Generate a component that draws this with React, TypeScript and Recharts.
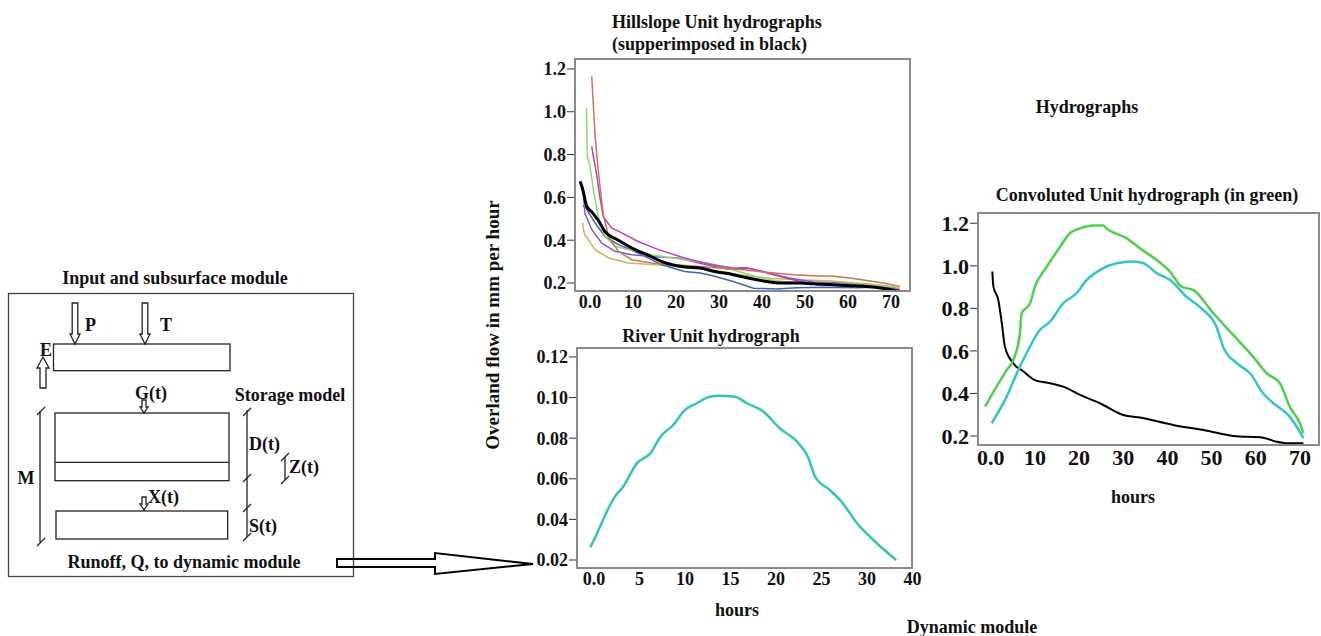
import { LineChart, Line, XAxis, YAxis } from "recharts";

const FONT = '"Liberation Serif", "Times New Roman", serif';

// [hours, mm per hour]
const HILL_BLACK = [[-2.3, 0.675], [-1.6, 0.63], [-0.8, 0.56], [0.5, 0.53], [2, 0.49], [3.5, 0.44], [6.6, 0.4], [10.5, 0.356], [13.5, 0.33], [16.7, 0.3], [22, 0.275], [25.6, 0.27], [29, 0.254], [33.3, 0.239], [37, 0.222], [41.1, 0.207], [44, 0.2], [48.8, 0.2], [52, 0.196], [56.6, 0.192], [60, 0.188], [64.3, 0.184], [68, 0.176], [72.1, 0.16]];
const HILL_BROWN = [[0.4, 1.165], [0.8, 1.025], [1.2, 0.885], [1.9, 0.73], [2.5, 0.62], [3.1, 0.52], [4.3, 0.418], [6.6, 0.348], [9.7, 0.309], [14.3, 0.294], [19, 0.286], [24, 0.28], [30, 0.27], [35.7, 0.262], [41, 0.25], [47.3, 0.239], [52, 0.234], [56.6, 0.231], [60.5, 0.223], [64, 0.213], [68.2, 0.2], [72.1, 0.184]];
const HILL_GREEN = [[-0.8, 1.018], [-0.7, 0.85], [-0.6, 0.79], [0, 0.745], [0.8, 0.636], [1.6, 0.54], [2.2, 0.49], [3.5, 0.418], [5.8, 0.371], [8.9, 0.356], [14.3, 0.332], [22, 0.309], [28.3, 0.29], [35.7, 0.247], [41.1, 0.216], [45, 0.207], [50, 0.2], [55, 0.198], [60, 0.194], [65, 0.19], [70.5, 0.18]];
const HILL_MAGENTA = [[0.4, 0.838], [0.8, 0.79], [1.6, 0.7], [2.3, 0.6], [3.1, 0.51], [5, 0.457], [7.4, 0.434], [11.2, 0.394], [15.9, 0.356], [22, 0.317], [28.3, 0.285], [33.3, 0.27], [37.2, 0.268], [41.1, 0.247], [48.8, 0.207], [52.7, 0.192], [58, 0.19], [64, 0.186], [68, 0.18], [72.1, 0.168]];
const HILL_PURPLE = [[-1.6, 0.65], [-1.4, 0.58], [-1.2, 0.527], [0.4, 0.45], [2.7, 0.387], [5.8, 0.348], [9.7, 0.332], [14.3, 0.324], [20.5, 0.317], [26, 0.29], [32, 0.265], [36, 0.272], [40, 0.255], [46, 0.225], [52, 0.205], [58, 0.2], [64, 0.19], [70, 0.175]];
const HILL_BLUE = [[-1.7, 0.56], [-1.2, 0.558], [1.2, 0.48], [3.5, 0.418], [6.6, 0.379], [11.2, 0.34], [16.7, 0.285], [22, 0.254], [25.6, 0.247], [28.3, 0.235], [33.3, 0.207], [38, 0.176], [43.4, 0.172], [48, 0.178], [55, 0.18], [62, 0.178], [66, 0.18], [69, 0.184], [71, 0.175]];
const HILL_OLIVE = [[-1.7, 0.48], [-1.5, 0.45], [-1.2, 0.426], [1.2, 0.356], [4.3, 0.317], [8.9, 0.294], [14.3, 0.286], [19.7, 0.28], [25, 0.27], [30, 0.255], [36, 0.235], [42, 0.222], [48, 0.215], [55, 0.21], [62, 0.2], [68, 0.19], [72, 0.176]];

const RIVER = [[-0.4, 0.0263], [0.5, 0.0348], [1.4, 0.0438], [2.3, 0.0512], [3.2, 0.0561], [4.7, 0.0676], [6.2, 0.0726], [7.3, 0.0807], [8.7, 0.0865], [10, 0.0939], [11.3, 0.0972], [12.7, 0.1004], [13.8, 0.1009], [15.5, 0.1004], [16.8, 0.0972], [18.6, 0.0931], [20.4, 0.0849], [22.3, 0.0783], [23.5, 0.0709], [24.3, 0.061], [25.9, 0.0545], [27.2, 0.0487], [28.9, 0.0381], [30.9, 0.029], [33.2, 0.02]];

const CONV_GREEN = [[-1.3, 0.338], [1.3, 0.432], [3.6, 0.51], [5.1, 0.557], [6.6, 0.683], [7, 0.777], [8.9, 0.824], [10, 0.902], [12.7, 0.996], [15.7, 1.09], [17.9, 1.153], [20.2, 1.176], [23.2, 1.189], [25.5, 1.189], [26.2, 1.176], [30.8, 1.129], [33.8, 1.082], [37.6, 1.027], [40.6, 0.972], [43.2, 0.902], [45.9, 0.886], [50.4, 0.777], [54.9, 0.675], [59.4, 0.573], [62.5, 0.495], [65.5, 0.447], [67.7, 0.338], [70, 0.26], [70.8, 0.213]];
const CONV_CYAN = [[0.2, 0.26], [3.6, 0.385], [5.9, 0.495], [8.1, 0.589], [11.1, 0.698], [13.4, 0.737], [16.4, 0.824], [19.4, 0.871], [21.7, 0.933], [24.7, 0.98], [28.5, 1.012], [32.3, 1.02], [34.6, 1.012], [37.6, 0.965], [40.6, 0.933], [44.3, 0.855], [48.1, 0.793], [51.1, 0.714], [52.6, 0.62], [55.7, 0.542], [58.7, 0.495], [61.7, 0.4], [64, 0.354], [67.7, 0.291], [70.8, 0.19]];
const CONV_BLACK = [[0.35, 0.973], [0.6, 0.902], [1.7, 0.84], [2.5, 0.73], [3.2, 0.62], [5.1, 0.542], [7.4, 0.503], [10, 0.463], [13.4, 0.448], [16.4, 0.432], [20.2, 0.393], [24.7, 0.354], [30, 0.299], [33.8, 0.287], [41.3, 0.252], [48.9, 0.225], [54.9, 0.2], [61.7, 0.192], [64.7, 0.173], [67, 0.166], [70.8, 0.166]];

const HILL_X_TICKS = [0, 10, 20, 30, 40, 50, 60, 70];
const HILL_Y_TICKS = [0.2, 0.4, 0.6, 0.8, 1.0, 1.2];
const RIVER_X_TICKS = [0, 5, 10, 15, 20, 25, 30, 35];
const RIVER_X_LABELS = ["0.0", "5", "10", "15", "20", "25", "30", "40"];
const RIVER_Y_TICKS = [0.02, 0.04, 0.06, 0.08, 0.1, 0.12];
const CONV_X_TICKS = [0, 10, 20, 30, 40, 50, 60, 70];
const CONV_Y_TICKS = [0.2, 0.4, 0.6, 0.8, 1.0, 1.2];

const pts = (a: number[][]) => a.map(([t, q]) => ({ t, q }));

type Box = { x: number; y: number; w: number; h: number };
type Series = { name: string; data: number[][]; color: string; width: number; curve: "linear" | "monotone" };

function Panel(props: {
  box: Box;
  xDomain: [number, number];
  yDomain: [number, number];
  xTicks: number[];
  yTicks: number[];
  xFmt: (v: number) => string;
  yFmt: (v: number) => string;
  fontSize: number;
  series: Series[];
}) {
  const { box, fontSize } = props;
  const YW = 70, MT = 10, MR = 12, XH = 34;
  const tick = { fill: "#111", fontSize, fontWeight: 700, fontFamily: FONT };
  return (
    <>
      <div style={{ position: "absolute", left: box.x - YW, top: box.y - MT }}>
        <LineChart
          width={YW + box.w + MR}
          height={MT + box.h + XH}
          margin={{ top: MT, right: MR, left: 0, bottom: 0 }}
        >
          <XAxis
            type="number"
            dataKey="t"
            domain={props.xDomain}
            allowDataOverflow
            ticks={props.xTicks}
            interval={0}
            tickFormatter={props.xFmt}
            axisLine={false}
            tickLine={false}
            tickSize={0}
            tickMargin={3}
            height={XH}
            tick={tick}
          />
          <YAxis
            type="number"
            domain={props.yDomain}
            allowDataOverflow
            ticks={props.yTicks}
            interval={0}
            tickFormatter={props.yFmt}
            axisLine={false}
            tickLine={{ stroke: "#333" }}
            tickSize={7}
            tickMargin={1}
            width={YW}
            tick={tick}
          />
          {props.series.map((s) => (
            <Line
              key={s.name}
              data={pts(s.data)}
              dataKey="q"
              type={s.curve}
              stroke={s.color}
              strokeWidth={s.width}
              dot={false}
              activeDot={false}
              isAnimationActive={false}
            />
          ))}
        </LineChart>
      </div>
      <div
        style={{
          position: "absolute",
          left: box.x,
          top: box.y,
          width: box.w,
          height: box.h,
          border: "2px solid #8a8a8a",
          boxSizing: "border-box",
          pointerEvents: "none",
        }}
      />
    </>
  );
}

function T(p: { x: number; y: number; children: string; anchor?: "start" | "middle" | "end"; size?: number }) {
  return (
    <text
      x={p.x}
      y={p.y}
      textAnchor={p.anchor ?? "middle"}
      dominantBaseline="central"
      fontFamily={FONT}
      fontWeight={700}
      fontSize={p.size ?? 18}
      fill="#111"
    >
      {p.children}
    </text>
  );
}

const downArrow = (cx: number, y0: number, y1: number, sw: number, hw: number, hl: number) =>
  [
    [cx - sw, y0], [cx + sw, y0], [cx + sw, y1 - hl], [cx + hw, y1 - hl],
    [cx, y1], [cx - hw, y1 - hl], [cx - sw, y1 - hl],
  ].map((p) => p.join(",")).join(" ");

const upArrow = (cx: number, y0: number, y1: number, sw: number, hw: number, hl: number) =>
  [
    [cx, y0], [cx + hw, y0 + hl], [cx + sw, y0 + hl], [cx + sw, y1],
    [cx - sw, y1], [cx - sw, y0 + hl], [cx - hw, y0 + hl],
  ].map((p) => p.join(",")).join(" ");

const slash = (x: number, y: number) => <line x1={x - 4} y1={y + 4} x2={x + 4} y2={y - 4} />;

export default function App() {
  const f1 = (v: number) => (v === 0 ? "0.0" : String(v));
  return (
    <div
      style={{
        position: "absolute",
        left: 0,
        top: 0,
        width: 1321,
        height: 636,
        background: "#fff",
        overflow: "hidden",
        fontFamily: FONT,
      }}
    >
      <Panel
        box={{ x: 574, y: 58, w: 337, h: 234 }}
        xDomain={[-3.72, 74.65]}
        yDomain={[0.158, 1.251]}
        xTicks={HILL_X_TICKS}
        yTicks={HILL_Y_TICKS}
        xFmt={f1}
        yFmt={(v) => v.toFixed(1)}
        fontSize={18}
        series={[
          { name: "olive", data: HILL_OLIVE, color: "#c4b763", width: 1.5, curve: "linear" },
          { name: "blue", data: HILL_BLUE, color: "#3d64b8", width: 1.5, curve: "linear" },
          { name: "purple", data: HILL_PURPLE, color: "#8a55c8", width: 1.5, curve: "linear" },
          { name: "green", data: HILL_GREEN, color: "#8ddc6c", width: 1.5, curve: "linear" },
          { name: "magenta", data: HILL_MAGENTA, color: "#c23fb3", width: 1.5, curve: "linear" },
          { name: "brown", data: HILL_BROWN, color: "#c27b52", width: 1.5, curve: "linear" },
          { name: "black", data: HILL_BLACK, color: "#000", width: 3, curve: "monotone" },
        ]}
      />
      <Panel
        box={{ x: 576, y: 347, w: 337, h: 222 }}
        xDomain={[-1.98, 35.05]}
        yDomain={[0.01557, 0.1249]}
        xTicks={RIVER_X_TICKS}
        yTicks={RIVER_Y_TICKS}
        xFmt={(v) => RIVER_X_LABELS[RIVER_X_TICKS.indexOf(v)] ?? String(v)}
        yFmt={(v) => v.toFixed(2)}
        fontSize={18}
        series={[{ name: "river", data: RIVER, color: "#35c4b0", width: 2.5, curve: "monotone" }]}
      />
      <Panel
        box={{ x: 977, y: 212, w: 343, h: 234 }}
        xDomain={[-3.12, 74.55]}
        yDomain={[0.153, 1.253]}
        xTicks={CONV_X_TICKS}
        yTicks={CONV_Y_TICKS}
        xFmt={f1}
        yFmt={(v) => v.toFixed(1)}
        fontSize={22}
        series={[
          { name: "black", data: CONV_BLACK, color: "#000", width: 2, curve: "monotone" },
          { name: "cyan", data: CONV_CYAN, color: "#35c4c4", width: 2.5, curve: "monotone" },
          { name: "green", data: CONV_GREEN, color: "#4fcf4f", width: 2.5, curve: "monotone" },
        ]}
      />

      <svg
        width={1321}
        height={636}
        style={{ position: "absolute", left: 0, top: 0, pointerEvents: "none" }}
      >
        <T x={612} y={22} anchor="start">Hillslope Unit hydrographs</T>
        <T x={612} y={44} anchor="start">(supperimposed in black)</T>
        <T x={711} y={336}>River Unit hydrograph</T>
        <T x={1147} y={195}>Convoluted Unit hydrograph (in green)</T>
        <T x={1087} y={107}>Hydrographs</T>
        <T x={1133} y={497}>hours</T>
        <T x={737} y={610}>hours</T>
        <T x={972} y={627}>Dynamic module</T>
        <g transform="rotate(-90 492 325)">
          <T x={492} y={325} size={19}>Overland flow in mm per hour</T>
        </g>

        <T x={175} y={278}>Input and subsurface module</T>
        <g fill="none" stroke="#222" strokeWidth={1.3}>
          <rect x={8.5} y={293.5} width={345} height={283} stroke="#444" />
          <rect x={53.5} y={344} width={176.5} height={26.7} />
          <rect x={55} y={413} width={174} height={67.7} />
          <line x1={55} y1={462.3} x2={229} y2={462.3} />
          <rect x={56} y={511} width={171.7} height={28} />
          <polygon points={downArrow(75, 303, 344, 2.8, 5, 10)} />
          <polygon points={downArrow(145, 303, 344, 2.8, 5, 10)} />
          <polygon points={upArrow(43, 357, 388, 3, 6, 11)} />
          <polygon points={downArrow(144, 400, 413, 2, 4, 6)} />
          <polygon points={downArrow(144, 497, 510, 2, 4, 6)} />
          <line x1={40} y1={411} x2={40} y2={542} />
          {slash(41, 411)}
          {slash(41, 542)}
          <line x1={247} y1={410} x2={247} y2={537} />
          {slash(247, 412)}
          {slash(247, 478)}
          {slash(247, 508)}
          {slash(247, 537)}
          <line x1={285} y1={457} x2={285} y2={480} />
          {slash(285, 457)}
          {slash(285, 480)}
          <polygon
            points="337,559 435,559 435,553 533,564 435,574 435,567 337,567"
            strokeWidth={2}
            stroke="#000"
          />
        </g>
        <T x={85} y={325} anchor="start">P</T>
        <T x={160} y={325} anchor="start">T</T>
        <T x={40} y={350} anchor="start">E</T>
        <T x={151} y={393}>G(t)</T>
        <T x={290} y={395}>Storage model</T>
        <T x={249} y={444} anchor="start">D(t)</T>
        <T x={289} y={467} anchor="start">Z(t)</T>
        <T x={148} y={497} anchor="start">X(t)</T>
        <T x={249} y={526} anchor="start">S(t)</T>
        <T x={26} y={478}>M</T>
        <T x={184} y={562}>Runoff, Q, to dynamic module</T>
      </svg>
    </div>
  );
}
